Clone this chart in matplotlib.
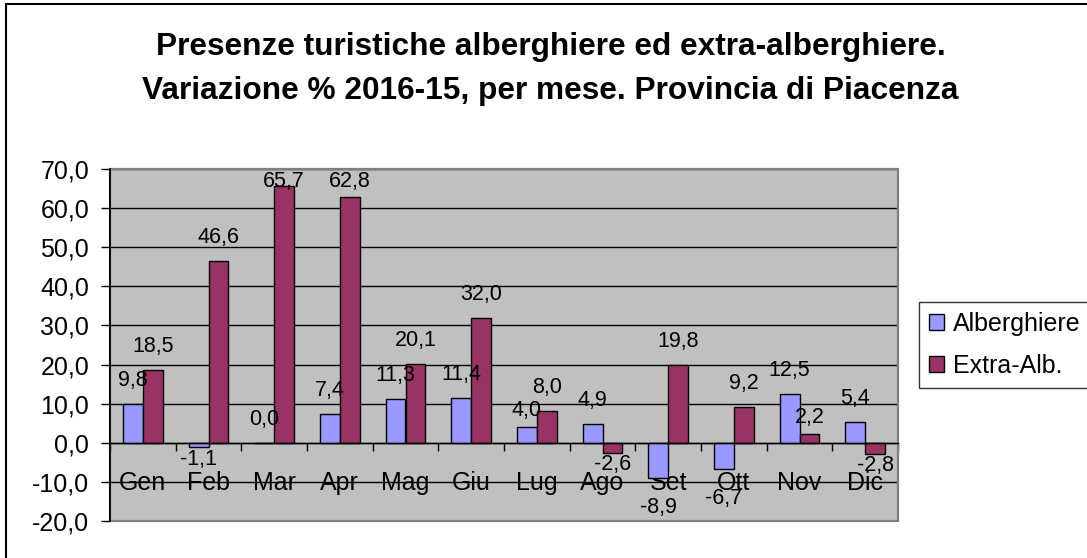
import matplotlib
matplotlib.use("Agg")
import matplotlib.pyplot as plt
from matplotlib.patches import Rectangle
from matplotlib.ticker import FixedLocator, FuncFormatter
import numpy as np

plt.rcParams['font.family'] = ['Liberation Sans', 'DejaVu Sans']

months = ["Gen", "Feb", "Mar", "Apr", "Mag", "Giu", "Lug", "Ago", "Set", "Ott", "Nov", "Dic"]
alberghiere = [9.8, -1.1, 0.0, 7.4, 11.3, 11.4, 4.0, 4.9, -8.9, -6.7, 12.5, 5.4]
extra_alb = [18.5, 46.6, 65.7, 62.8, 20.1, 32.0, 8.0, -2.6, 19.8, 9.2, 2.2, -2.8]
series_names = ["Alberghiere", "Extra-Alb."]
colors = ["#9999FF", "#993366"]
title_lines = ["Presenze turistiche alberghiere ed extra-alberghiere.",
               "Variazione % 2016-15, per mese. Provincia di Piacenza"]

W, H = 1087, 558
fig = plt.figure(figsize=(W / 100, H / 100), dpi=100)

# outer chart border (only top/left visible, chart is cropped)
fig.patches.append(Rectangle((6 / W, -0.05), 1.1, 1 - 4 / H + 0.05, transform=fig.transFigure,
                             fill=False, edgecolor="#000000", linewidth=1.5))

ax_l, ax_r, ax_t, ax_b = 110, 898, 169, 521
ax = fig.add_axes([ax_l / W, 1 - ax_b / H, (ax_r - ax_l) / W, (ax_b - ax_t) / H])
ax.set_facecolor("#C0C0C0")

ymin, ymax = -20, 70
ax.set_ylim(ymin, ymax)
ax.set_xlim(0, len(months))
ppu = (ax_b - ax_t) / (ymax - ymin)  # pixels per data unit

x = np.arange(len(months)) + 0.5
bw = 0.3
data = [alberghiere, extra_alb]
for i, vals in enumerate(data):
    ax.bar(x + (i - 0.5) * bw, vals, width=bw, align='center',
           color=colors[i], edgecolor="black", linewidth=1.0, zorder=3, label=series_names[i])

# grid
ax.set_axisbelow(True)
ax.yaxis.set_major_locator(FixedLocator(np.arange(ymin, ymax + 1, 10)))
ax.yaxis.set_major_formatter(FuncFormatter(lambda v, p: f"{v:.1f}".replace('.', ',')))
ax.grid(axis='y', color='black', linewidth=1.0, zorder=1)
ax.tick_params(axis='y', direction='out', length=6.5, width=1.0, pad=8.5, labelsize=18, colors='black')

# x axis at zero
ax.spines['bottom'].set_position(('data', 0))
ax.spines['bottom'].set_linewidth(1.0)
ax.spines['bottom'].set_zorder(4)
ax.spines['top'].set_visible(False)
ax.spines['right'].set_visible(False)
ax.spines['left'].set_linewidth(1.3)
ax.spines['left'].set_zorder(5)
ax.set_xticks(x)
ax.set_xticklabels(months)
ax.set_xticks(np.arange(0, len(months) + 1), minor=True)
ax.tick_params(axis='x', which='major', length=0, pad=20, labelsize=18)
ax.tick_params(axis='x', which='minor', direction='out', length=6, width=1.0)

# plot area border (gray)
ax.add_patch(Rectangle((0, 0), 1, 1, transform=ax.transAxes, fill=False,
                       edgecolor="#808080", linewidth=1.6, zorder=2.5, clip_on=False))

# data labels (Excel-like placement)
label_shift_px = {(0, 6): 7, (1, 10): 7}  # labels Excel pushed closer to avoid overlap
top_limit = ymax - 18 / ppu
for i, vals in enumerate(data):
    for j, v in enumerate(vals):
        xc = x[j] + (i - 0.5) * bw
        txt = f"{v:.1f}".replace('.', ',')
        if v >= 0:
            yb = v + (18 - label_shift_px.get((i, j), 0)) / ppu
            yb = min(yb, top_limit)
            ax.text(xc, yb, txt, ha='center', va='baseline', fontsize=15.5, zorder=6)
        else:
            gap = 19 if abs(v) * ppu > 15 else 1.5
            ax.text(xc, v - gap / ppu, txt, ha='center', va='top', fontsize=15.5, zorder=6)

# title
fig.text(551 / W, 1 - 55 / H, title_lines[0], ha='center', va='baseline', fontsize=22.8, fontweight='bold')
fig.text(550 / W, 1 - 99 / H, title_lines[1], ha='center', va='baseline', fontsize=22.8, fontweight='bold')

# legend
leg = fig.legend(loc='upper left', bbox_to_anchor=(919 / W, 1 - 302 / H), fontsize=18,
                 frameon=True, fancybox=False, shadow=False, handlelength=0.6, handleheight=0.6,
                 handletextpad=0.36, labelspacing=0.72, borderpad=0.4, borderaxespad=0)
leg.get_frame().set_edgecolor('black')
leg.get_frame().set_linewidth(1.0)

fig.savefig("out.png", dpi=100)
